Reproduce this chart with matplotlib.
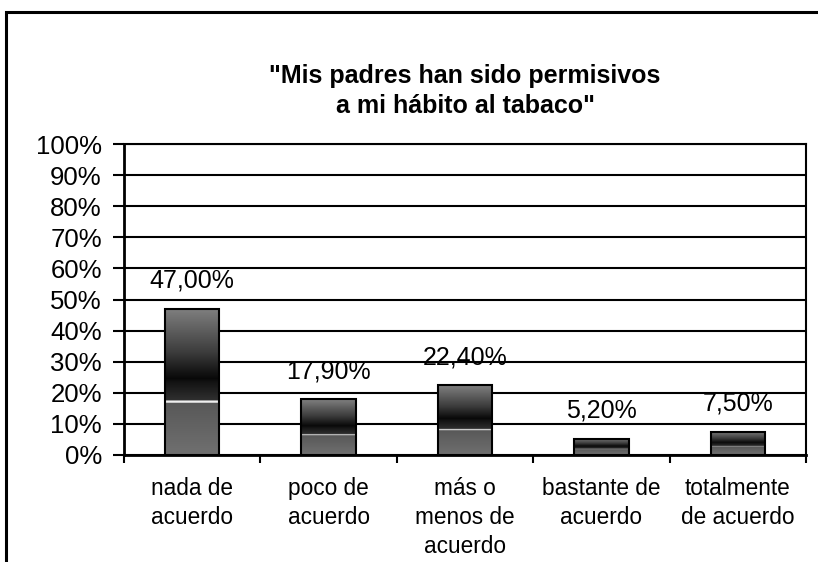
import numpy as np
import matplotlib
matplotlib.use('Agg')
import matplotlib.pyplot as plt
from matplotlib.colors import LinearSegmentedColormap
from matplotlib.patches import Rectangle

plt.rcParams['font.family'] = ['Liberation Sans', 'DejaVu Sans']

# Data
categories = ['nada de\nacuerdo', 'poco de\nacuerdo', 'más o\nmenos de\nacuerdo',
              'bastante de\nacuerdo', 'totalmente\nde acuerdo']
values = [47.0, 17.9, 22.4, 5.2, 7.5]
value_labels = ['47,00%', '17,90%', '22,40%', '5,20%', '7,50%']
yticks = list(range(0, 101, 10))
title = '"Mis padres han sido permisivos\na mi hábito al tabaco"'

# Excel-like vertical gradient (bottom -> top)
grad = LinearSegmentedColormap.from_list('bar', [
    (0.00, '#707070'), (0.355, '#585858'), (0.356, '#f0f0f0'), (0.37, '#f0f0f0'),
    (0.371, '#303030'), (0.50, '#121212'), (0.52, '#080808'),
    (0.70, '#3c3c3c'), (1.00, '#808080')])

fig = plt.figure(figsize=(8.18, 5.62), dpi=100)
ax = fig.add_axes([124 / 818, 1 - 455 / 562, 682 / 818, 311 / 562])

x = np.arange(len(categories))
width = 0.4
bars = ax.bar(x, values, width=width, color='none', edgecolor='black', linewidth=1.5, zorder=4)
gimg = np.linspace(0, 1, 256).reshape(-1, 1)
for b in bars:
    im = ax.imshow(gimg, cmap=grad, origin='lower', aspect='auto', interpolation='bilinear',
                   extent=[b.get_x(), b.get_x() + b.get_width(), 0, b.get_height()], zorder=3)
    im.set_clip_path(b)

for xi, v, lab in zip(x, values, value_labels):
    ax.text(xi, v + 9, lab, ha='center', va='center', fontsize=18, zorder=5)

ax.set_xlim(-0.5, len(categories) - 0.5)
ax.set_ylim(0, 100)
ax.set_yticks(yticks)
ax.set_yticklabels([f'{t}%' for t in yticks], fontsize=18.5)
ax.set_xticks(x)
ax.set_xticklabels(categories, fontsize=16.3, linespacing=1.33, va='top')
ax.tick_params(axis='x', length=0, pad=16)
ax.set_xticks(np.arange(len(categories) + 1) - 0.5, minor=True)
ax.tick_params(axis='x', which='minor', length=6, width=1.5, direction='out')
ax.tick_params(axis='y', length=8, width=1.5, direction='out', pad=8)
ax.yaxis.grid(True, color='black', linewidth=1.5, zorder=1)
ax.set_axisbelow(True)
for s in ax.spines.values():
    s.set_linewidth(1.5)
ax.spines['left'].set_linewidth(2)
ax.spines['bottom'].set_linewidth(2)

fig.text(465 / 818, 1 - 91 / 562, title, ha='center', va='center', fontsize=18,
         fontweight='bold', linespacing=1.28)

# outer chart frame (left and top edges visible)
fig.patches.append(Rectangle((6 / 818, -0.2), 1.2, 1 - 12 / 562 + 0.2, transform=fig.transFigure,
                             fill=False, edgecolor='black', linewidth=2.2))

fig.savefig('out.png', dpi=100)
